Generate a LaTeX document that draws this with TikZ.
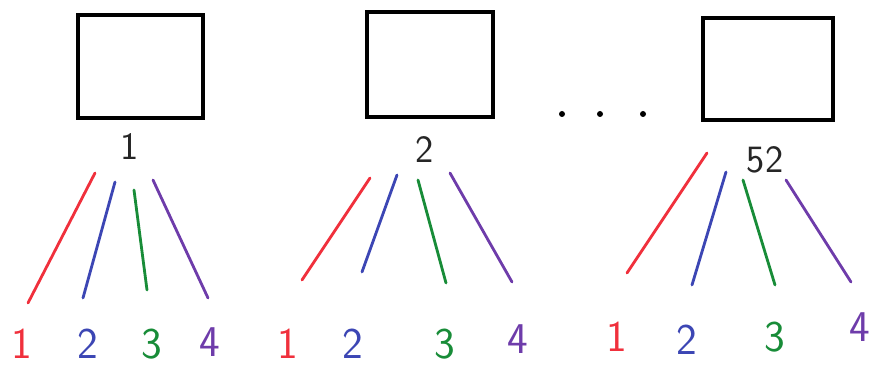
\documentclass[tikz,border=0pt]{standalone}
\usepackage{tikz}
\usetikzlibrary{positioning}
\definecolor{PenRed}{HTML}{F0303C}
\definecolor{PenBlue}{HTML}{3C46B4}
\definecolor{PenGreen}{HTML}{188C38}
\definecolor{PenPurple}{HTML}{6E3CAA}

\begin{document}
\begin{tikzpicture}[
    x=0.02cm,y=-0.02cm,
    boxnode/.style={draw=black,line width=1.8pt,inner sep=0pt},
    idnode/.style={font=\fontsize{22}{26}\selectfont\sffamily,text=black!85},
    leafnode/.style={font=\fontsize{25}{28}\selectfont\sffamily,inner sep=0pt},
    stroke/.style={line width=1.6pt,line cap=round}
  ]
  \useasboundingbox (0,0) rectangle (873,367);
  % Machines
  \node[boxnode,minimum width=125*0.02cm,minimum height=103*0.02cm] (m1) at (140.5,66.5) {};
  \node[boxnode,minimum width=126*0.02cm,minimum height=105*0.02cm] (m2) at (430,64.5) {};
  \node[boxnode,minimum width=130*0.02cm,minimum height=102*0.02cm] (m3) at (768,69) {};
  \node[idnode] (id1) at (130,147) {1};
  \node[idnode] (id2) at (425,150) {2};
  \node[idnode] (id3) at (765,160) {52};
  % Dots
  \foreach \px in {562,600,643}
    \fill (\px,114) circle (3);
  % Group 1
  \node[leafnode,PenRed]    (a1) at (22,344) {1};
  \node[leafnode,PenBlue]   (a2) at (88,344) {2};
  \node[leafnode,PenGreen]  (a3) at (152,344) {3};
  \node[leafnode,PenPurple] (a4) at (210,342) {4};
  \coordinate (ta1) at (95,173);  \coordinate (ba1) at (28,303);
  \coordinate (ta2) at (115,182); \coordinate (ba2) at (83,298);
  \coordinate (ta3) at (134,190); \coordinate (ba3) at (147,290);
  \coordinate (ta4) at (153,180); \coordinate (ba4) at (208,298);
  \draw[stroke,PenRed]    (ta1) -- (ba1);
  \draw[stroke,PenBlue]   (ta2) -- (ba2);
  \draw[stroke,PenGreen]  (ta3) -- (ba3);
  \draw[stroke,PenPurple] (ta4) -- (ba4);
  % Group 2
  \node[leafnode,PenRed]    (b1) at (288,344) {1};
  \node[leafnode,PenBlue]   (b2) at (353,344) {2};
  \node[leafnode,PenGreen]  (b3) at (445,344) {3};
  \node[leafnode,PenPurple] (b4) at (518,339) {4};
  \coordinate (tb1) at (370,178); \coordinate (bb1) at (302,280);
  \coordinate (tb2) at (397,175); \coordinate (bb2) at (362,272);
  \coordinate (tb3) at (418,180); \coordinate (bb3) at (446,283);
  \coordinate (tb4) at (450,173); \coordinate (bb4) at (512,282);
  \draw[stroke,PenRed]    (tb1) -- (bb1);
  \draw[stroke,PenBlue]   (tb2) -- (bb2);
  \draw[stroke,PenGreen]  (tb3) -- (bb3);
  \draw[stroke,PenPurple] (tb4) -- (bb4);
  % Group 52
  \node[leafnode,PenRed]    (c1) at (617,337) {1};
  \node[leafnode,PenBlue]   (c2) at (687,340) {2};
  \node[leafnode,PenGreen]  (c3) at (775,337) {3};
  \node[leafnode,PenPurple] (c4) at (860,327) {4};
  \coordinate (tc1) at (707,153); \coordinate (bc1) at (627,273);
  \coordinate (tc2) at (726,172); \coordinate (bc2) at (692,285);
  \coordinate (tc3) at (743,180); \coordinate (bc3) at (775,285);
  \coordinate (tc4) at (786,180); \coordinate (bc4) at (851,282);
  \draw[stroke,PenRed]    (tc1) -- (bc1);
  \draw[stroke,PenBlue]   (tc2) -- (bc2);
  \draw[stroke,PenGreen]  (tc3) -- (bc3);
  \draw[stroke,PenPurple] (tc4) -- (bc4);
\end{tikzpicture}
\end{document}
